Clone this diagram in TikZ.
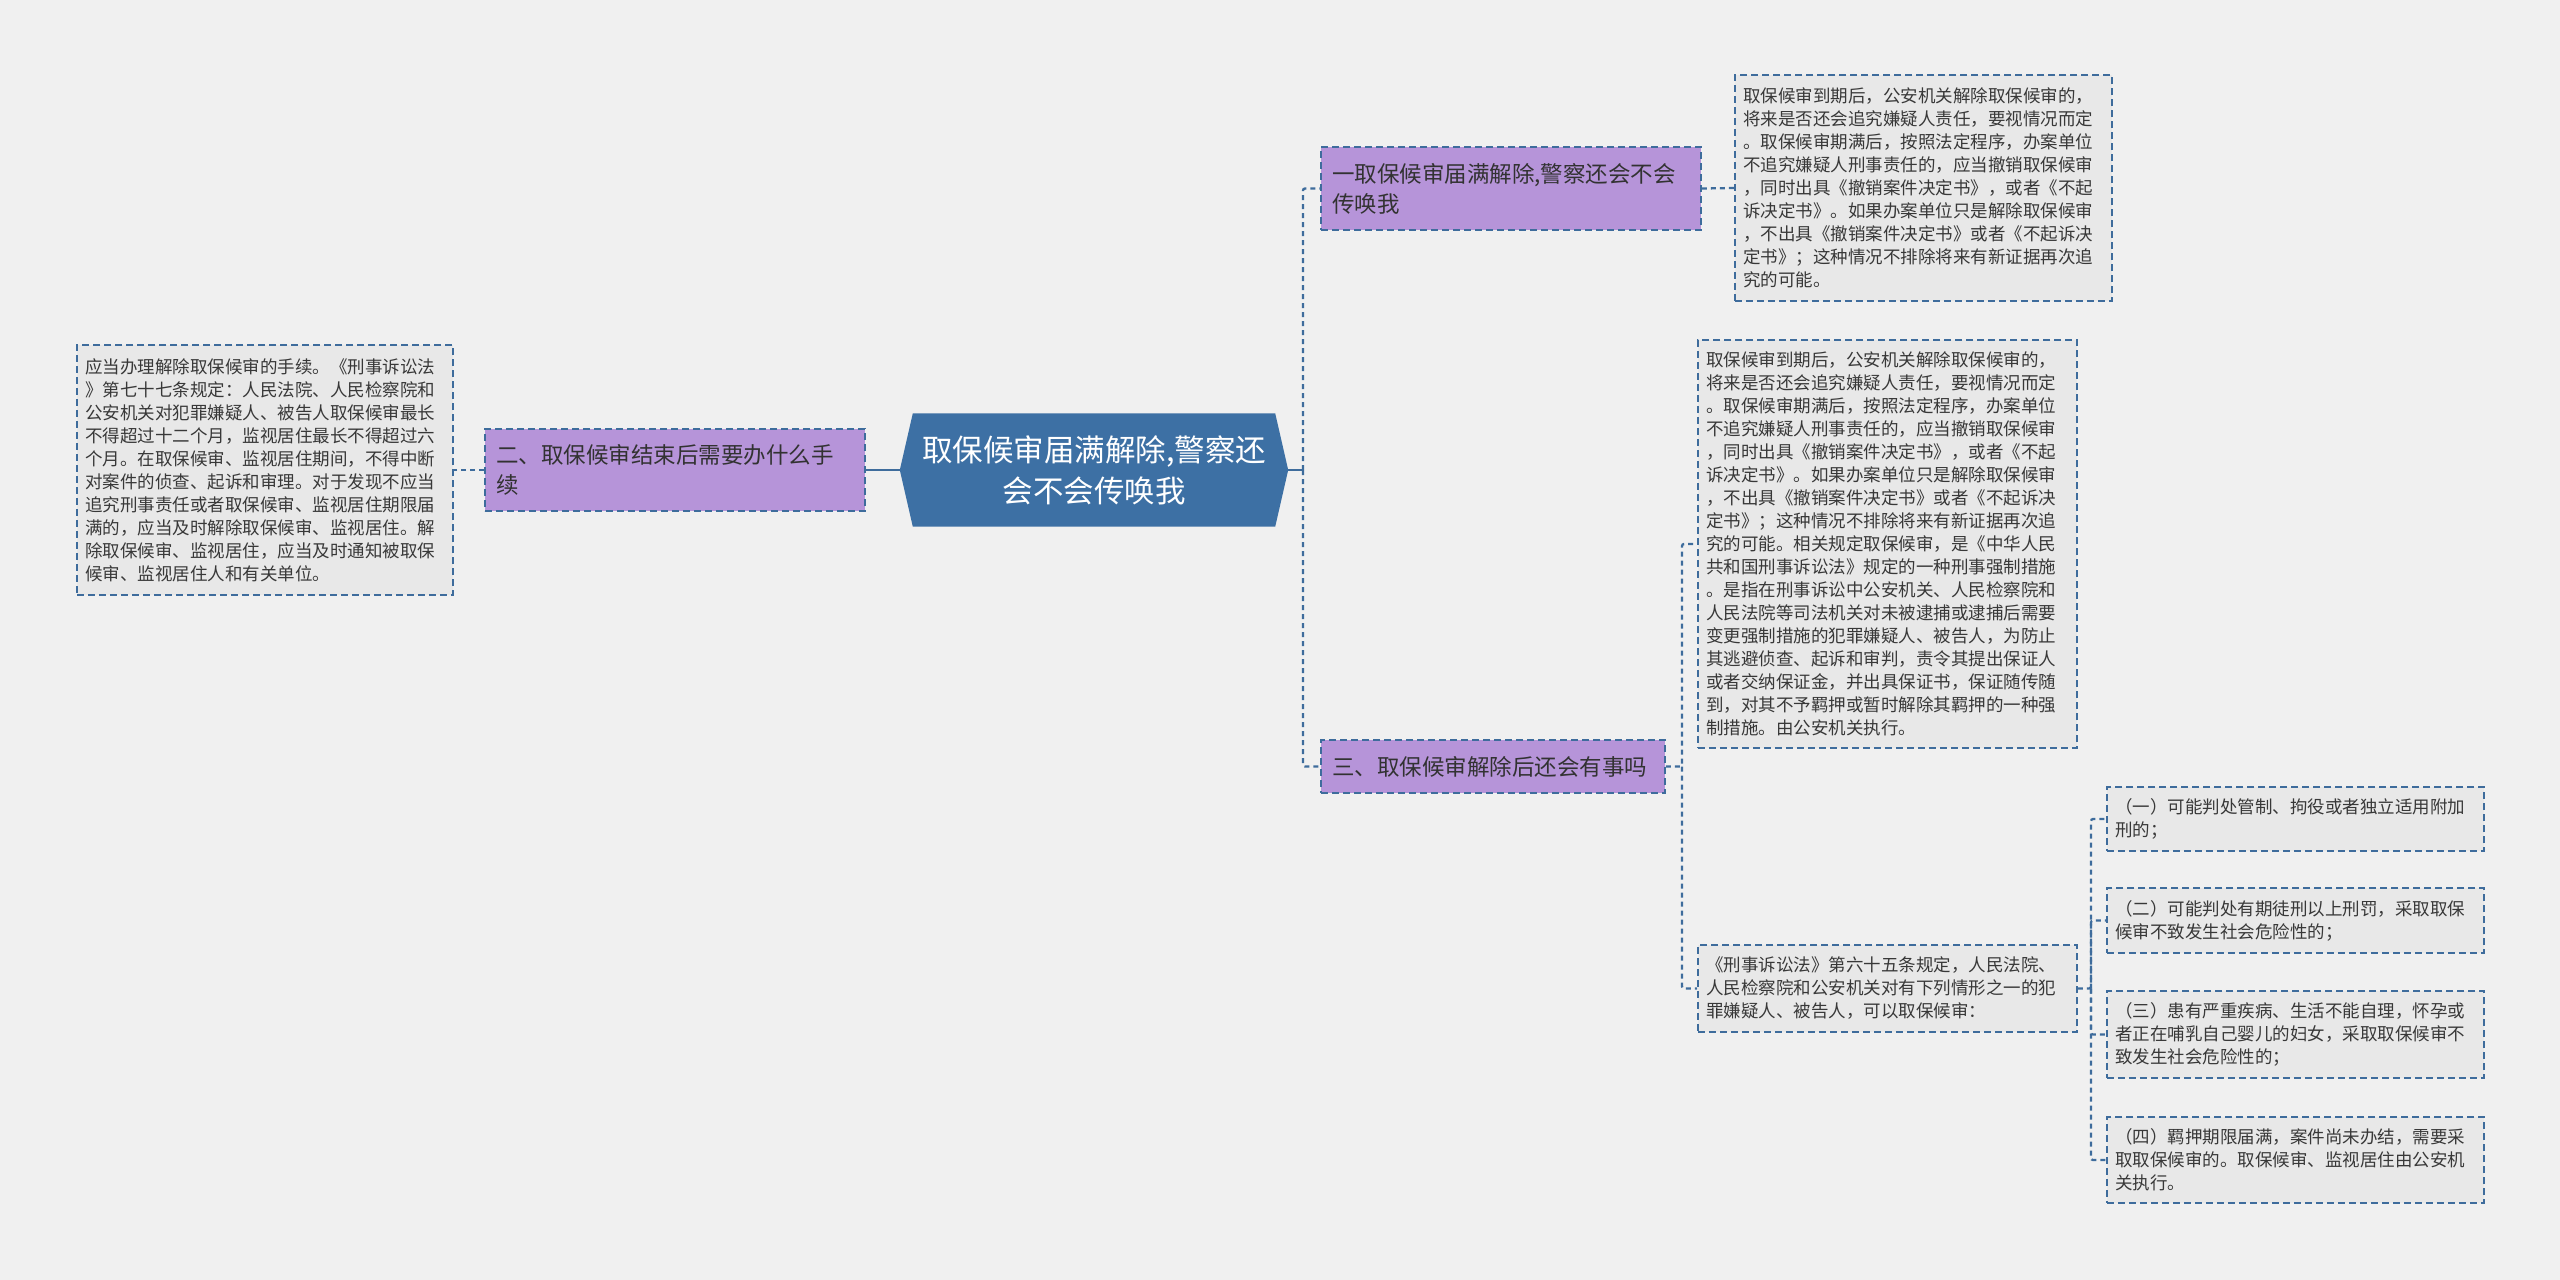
\documentclass[tikz,border=0pt]{standalone}
\usepackage{fontspec}
\setmainfont{Noto Sans CJK SC}
\definecolor{bgc}{HTML}{F0F0F0}
\definecolor{linec}{HTML}{3E6C9C}
\definecolor{leaff}{HTML}{E8E8E8}
\definecolor{purp}{HTML}{B694D9}
\definecolor{rootc}{HTML}{3D70A4}
\definecolor{txt}{HTML}{383838}
\begin{document}
\begin{tikzpicture}[x=1pt,y=-1pt,
  leaf/.style={draw=linec, fill=leaff, dash pattern=on 7pt off 4pt, line width=1.7pt,
    align=left, inner sep=0pt, text=txt, font=\fontsize{17.5}{23}\selectfont},
  branch/.style={draw=linec, fill=purp, dash pattern=on 7pt off 4pt, line width=1.7pt,
    align=left, inner sep=0pt, text=txt!90!black, font=\fontsize{22.5}{30}\selectfont},
  conn/.style={draw=linec, dash pattern=on 5pt off 4pt, line width=2.3pt, rounded corners=2pt},
  solidconn/.style={draw=linec, line width=2.3pt}]
\useasboundingbox[fill=bgc] (0,0) rectangle (2560,1280);

% root
\node[inner sep=0pt, minimum width=388pt, minimum height=113pt] (root) at (1094,470) {};
\fill[rootc] (root.west) -- ([xshift=13pt]root.north west) -- ([xshift=-13pt]root.north east)
  -- (root.east) -- ([xshift=-13pt]root.south east) -- ([xshift=13pt]root.south west) -- cycle;
\node[align=center, text=white, font=\fontsize{30.5}{41}\selectfont] (roottext) at (root.center)
  {取保候审届满解除,警察还\\会不会传唤我};

% branches
\node[branch, minimum width=380pt, minimum height=83pt, text width=358pt] (b1) at (1511,188.5)
  {一取保候审届满解除,警察还会不会\\传唤我};
\node[branch, minimum width=380pt, minimum height=82pt, text width=358pt] (b2) at (675,470)
  {二、取保候审结束后需要办什么手\\续};
\node[branch, minimum width=344pt, minimum height=53pt, text width=322pt] (b3) at (1493,766.5)
  {三、取保候审解除后还会有事吗};

% leaves
\node[leaf, minimum width=376pt, minimum height=250pt, text width=360pt] (l1) at (265,470)
  {应当办理解除取保候审的手续。《刑事诉讼法\\
》第七十七条规定：人民法院、人民检察院和\\
公安机关对犯罪嫌疑人、被告人取保候审最长\\
不得超过十二个月，监视居住最长不得超过六\\
个月。在取保候审、监视居住期间，不得中断\\
对案件的侦查、起诉和审理。对于发现不应当\\
追究刑事责任或者取保候审、监视居住期限届\\
满的，应当及时解除取保候审、监视居住。解\\
除取保候审、监视居住，应当及时通知被取保\\
候审、监视居住人和有关单位。};

\node[leaf, minimum width=377pt, minimum height=226pt, text width=361pt] (r1) at (1923.5,188)
  {取保候审到期后，公安机关解除取保候审的，\\
将来是否还会追究嫌疑人责任，要视情况而定\\
。取保候审期满后，按照法定程序，办案单位\\
不追究嫌疑人刑事责任的，应当撤销取保候审\\
，同时出具《撤销案件决定书》，或者《不起\\
诉决定书》。如果办案单位只是解除取保候审\\
，不出具《撤销案件决定书》或者《不起诉决\\
定书》；这种情况不排除将来有新证据再次追\\
究的可能。};

\node[leaf, minimum width=379pt, minimum height=408pt, text width=363pt] (r2) at (1887.5,544)
  {取保候审到期后，公安机关解除取保候审的，\\
将来是否还会追究嫌疑人责任，要视情况而定\\
。取保候审期满后，按照法定程序，办案单位\\
不追究嫌疑人刑事责任的，应当撤销取保候审\\
，同时出具《撤销案件决定书》，或者《不起\\
诉决定书》。如果办案单位只是解除取保候审\\
，不出具《撤销案件决定书》或者《不起诉决\\
定书》；这种情况不排除将来有新证据再次追\\
究的可能。相关规定取保候审，是《中华人民\\
共和国刑事诉讼法》规定的一种刑事强制措施\\
。是指在刑事诉讼中公安机关、人民检察院和\\
人民法院等司法机关对未被逮捕或逮捕后需要\\
变更强制措施的犯罪嫌疑人、被告人，为防止\\
其逃避侦查、起诉和审判，责令其提出保证人\\
或者交纳保证金，并出具保证书，保证随传随\\
到，对其不予羁押或暂时解除其羁押的一种强\\
制措施。由公安机关执行。};

\node[leaf, minimum width=379pt, minimum height=87pt, text width=363pt] (r3) at (1887.5,988.5)
  {《刑事诉讼法》第六十五条规定，人民法院、\\
人民检察院和公安机关对有下列情形之一的犯\\
罪嫌疑人、被告人，可以取保候审：};

\node[leaf, minimum width=377pt, minimum height=64pt, text width=361pt] (c1) at (2295.5,819)
  {（一）可能判处管制、拘役或者独立适用附加\\刑的；};
\node[leaf, minimum width=377pt, minimum height=65pt, text width=361pt] (c2) at (2295.5,920.5)
  {（二）可能判处有期徒刑以上刑罚，采取取保\\候审不致发生社会危险性的；};
\node[leaf, minimum width=377pt, minimum height=87pt, text width=361pt] (c3) at (2295.5,1034.5)
  {（三）患有严重疾病、生活不能自理，怀孕或\\者正在哺乳自己婴儿的妇女，采取取保候审不\\致发生社会危险性的；};
\node[leaf, minimum width=377pt, minimum height=86pt, text width=361pt] (c4) at (2295.5,1160)
  {（四）羁押期限届满，案件尚未办结，需要采\\取取保候审的。取保候审、监视居住由公安机\\关执行。};

% junctions
\coordinate (jr) at (1303,470);
\coordinate (j3) at (1682,766.5);
\coordinate (j4) at (2091,988.5);

% connectors
\draw[solidconn] (root.west) -- (b2.east);
\draw[conn] (b2.west) -- (l1.east);
\draw[solidconn] (root.east) -- (jr);
\draw[conn] (jr) |- (b1.west);
\draw[conn] (jr) |- (b3.west);
\draw[conn] (b1.east) -- (r1.west);
\draw[conn] (b3.east) -- (j3) |- (r2.west);
\draw[conn] (j3) |- (r3.west);
\draw[conn] (r3.east) -- (j4) |- (c1.west);
\draw[conn] (j4) |- (c2.west);
\draw[conn] (j4) |- (c3.west);
\draw[conn] (j4) |- (c4.west);
\end{tikzpicture}
\end{document}
